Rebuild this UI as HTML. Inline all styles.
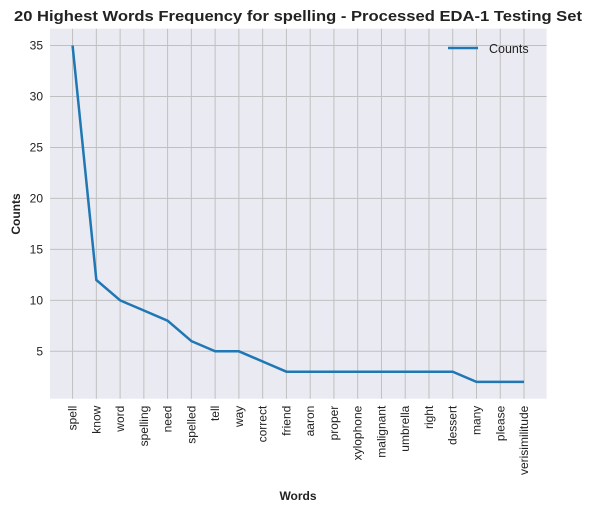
<!DOCTYPE html>
<html><head><meta charset="utf-8"><style>
body{margin:0;background:#fff;font-family:"Liberation Sans",Arial,sans-serif}
svg text{font-family:"Liberation Sans",Arial,sans-serif}
</style></head><body>
<svg id="c" width="592" height="514" xmlns="http://www.w3.org/2000/svg">
<text x="298" y="21" text-anchor="middle" font-size="14.5" font-weight="bold" fill="#222" textLength="568" lengthAdjust="spacingAndGlyphs">20 Highest Words Frequency for spelling - Processed EDA-1 Testing Set</text>
<rect x="50" y="28.7" width="496.6" height="370" fill="#eaeaf2"/>
<g id="grid"></g><g id="ticks"></g>
<text x="298" y="500" text-anchor="middle" font-size="12" font-weight="bold" fill="#222">Words</text>
<text transform="translate(20,214) rotate(-90)" text-anchor="middle" font-size="12" font-weight="bold" fill="#222">Counts</text>
<polyline id="line" fill="none" stroke="#1f77b4" stroke-width="2.5"/>
<g>
<line x1="448" y1="48" x2="478" y2="48" stroke="#1f77b4" stroke-width="2.5"/>
<text x="489" y="53" font-size="12.5" fill="#222">Counts</text>
</g>
</svg>
<script>
const categories=["spell","know","word","spelling","need","spelled","tell","way","correct","friend","aaron","proper","xylophone","malignant","umbrella","right","dessert","many","please","verisimilitude"];
const counts=[35,12,10,9,8,6,5,5,4,3,3,3,3,3,3,3,3,2,2,2];
const yTicks=[5,10,15,20,25,30,35];
const L=50,R=546.6,T=28.7,B=398.7;
const n=categories.length;
const mx=Math.max(...counts),mn=Math.min(...counts),m=(mx-mn)*0.05;
const y0=mn-m,y1=mx+m;
const step=(R-L)/(n-1+1.9);
const x=i=>L+step*0.95+i*step;
const y=v=>B-(v-y0)/(y1-y0)*(B-T);
const NS="http://www.w3.org/2000/svg";
const g=document.getElementById('grid'),tk=document.getElementById('ticks');
function mk(tag,a,p){const e=document.createElementNS(NS,tag);for(const k in a)e.setAttribute(k,a[k]);p.appendChild(e);return e;}
categories.forEach((c,i)=>{
 const l=mk('line',{x1:x(i),x2:x(i),y1:T,y2:B,stroke:'#c0c0c0','stroke-width':1},g);
 
 
 const t=mk('text',{transform:`translate(${x(i)+4},${B+7}) rotate(-90)`,'text-anchor':'end','font-size':12,fill:'#222'},tk);
 t.textContent=c;
 
 
});
yTicks.forEach(v=>{
 const l=mk('line',{x1:L,x2:R,y1:y(v),y2:y(v),stroke:'#c0c0c0','stroke-width':1},g);
 
 
 const t=mk('text',{x:L-7,y:y(v)+4,'text-anchor':'end','font-size':12,fill:'#222'},tk);
 t.textContent=v;
 
 
});
document.getElementById('line').setAttribute('points',counts.map((v,i)=>x(i)+','+y(v)).join(' '));
</script>
</body></html>
